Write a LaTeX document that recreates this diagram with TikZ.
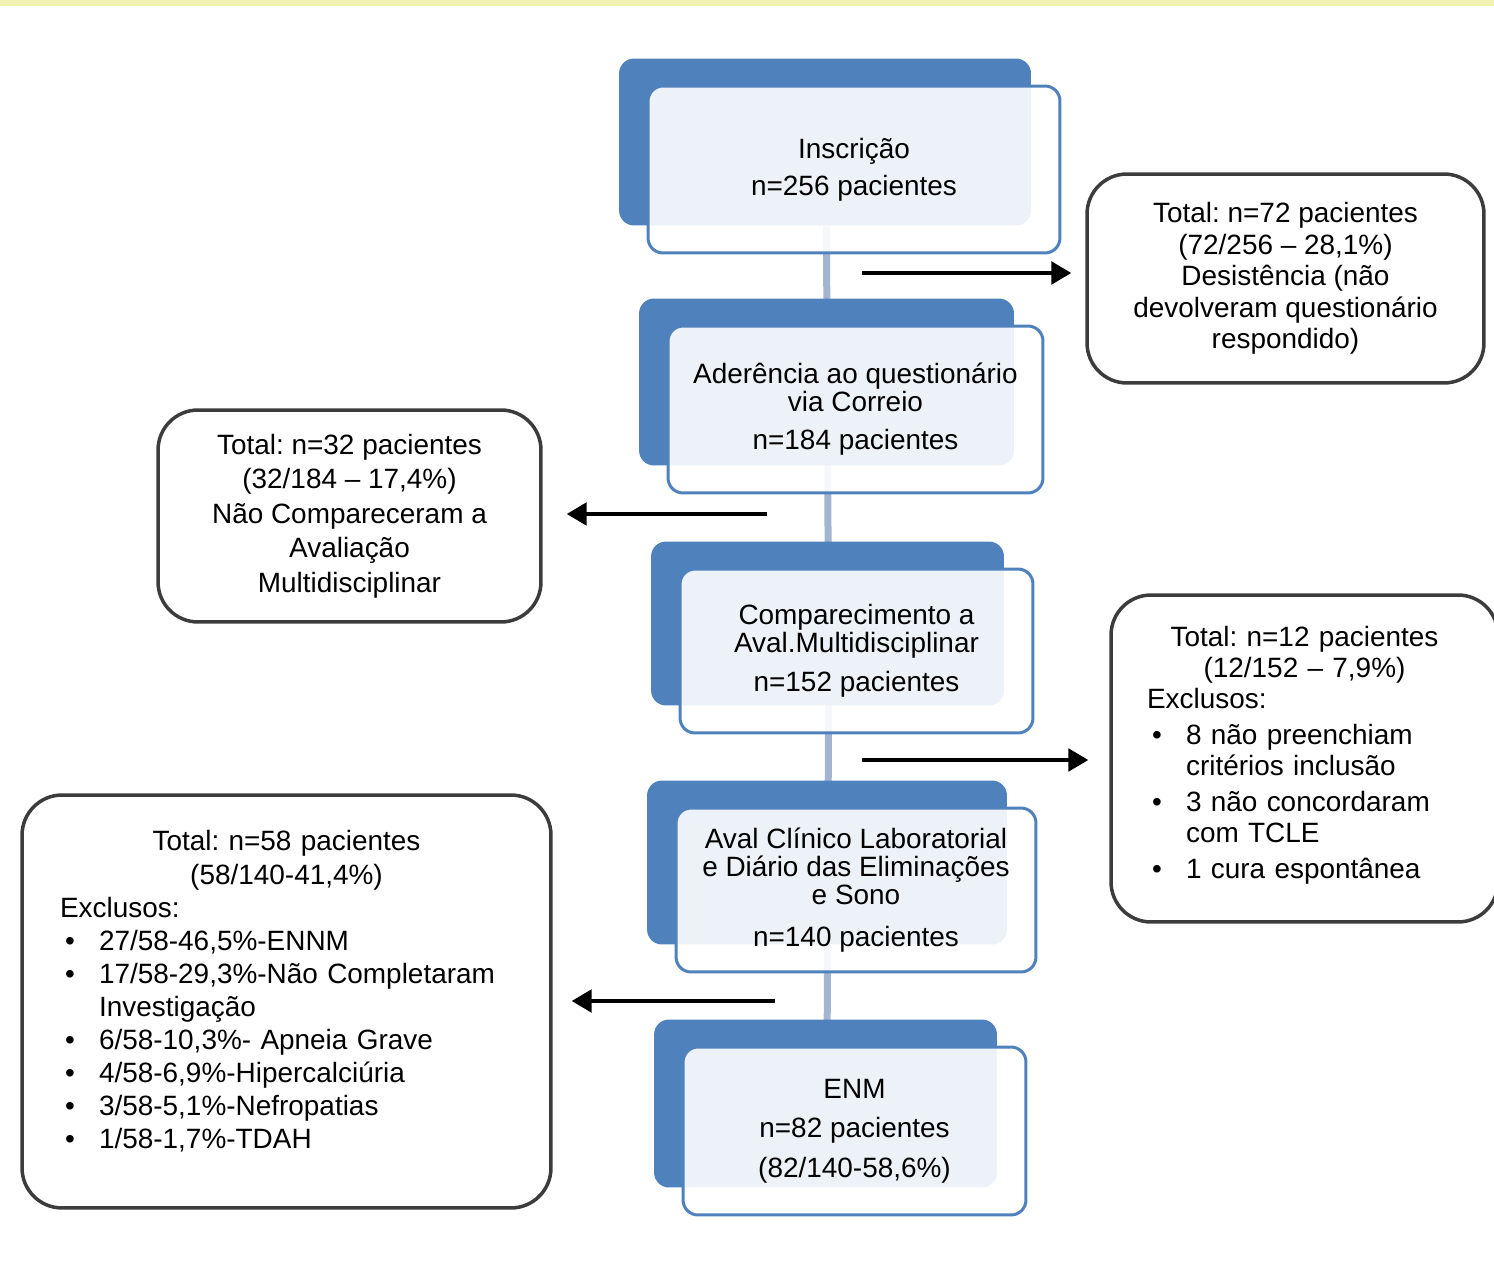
\documentclass[tikz,border=0pt]{standalone}
\usepackage{fontspec}
\setmainfont{Liberation Sans}
\usepackage{xcolor}
\usepackage{tikz}
\usetikzlibrary{arrows.meta, shadows, backgrounds}
\frenchspacing

\definecolor{azul}{HTML}{4F81BD}
\definecolor{linha}{HTML}{A3B5D1}
\definecolor{cinza}{HTML}{3C3C3C}
\definecolor{amarelo}{HTML}{F2F2B3}

\newcommand{\marca}{\hspace*{0.1cm}\makebox[0.68cm][l]{\textbullet}}
\newcommand{\centro}[1]{\makebox[\hsize][c]{#1}}

\tikzset{
  etapa/.style={draw=azul, line width=0.06cm, rounded corners=0.3cm,
    fill=white, fill opacity=0.9, text opacity=1, inner sep=0pt,
    align=center, font=\fontsize{15.9}{15.9}\selectfont,
    copy shadow={shadow xshift=-0.58cm, shadow yshift=0.55cm,
      fill=azul, draw=none, fill opacity=1}},
  caixa/.style={draw=cinza, line width=0.07cm, rounded corners=0.8cm,
    fill=white, font=\fontsize{15.9}{18.4}\selectfont},
  ligacao/.style={line width=0.14cm, color=linha},
  seta/.style={line width=0.08cm, -{Triangle[length=0.4cm,width=0.45cm]}},
}

\begin{document}
\begin{tikzpicture}[x=0.02cm, y=-0.02cm]
  \useasboundingbox (0,0) rectangle (1494,1263);
  % Faixa superior
  \fill[amarelo] (0,0) rectangle (1494,6);

  % Etapas principais
  \node[etapa, minimum width=8.24cm, minimum height=3.34cm] (insc) at (854,169.5)
    {Inscrição\\[0.18cm] n=256 pacientes};
  \node[etapa, minimum width=7.5cm, minimum height=3.34cm] (ader) at (855.5,409.5)
    {Aderência ao questionário\\ via Correio\\[0.2cm] n=184 pacientes};
  \node[etapa, minimum width=7.06cm, minimum height=3.28cm] (comp) at (856.5,651)
    {Comparecimento a\\ Aval.Multidisciplinar\\[0.22cm] n=152 pacientes};
  \node[etapa, minimum width=7.2cm, minimum height=3.28cm] (aval) at (856,890)
    {Aval Clínico Laboratorial\\ e Diário das Eliminações\\ e Sono\\[0.28cm] n=140 pacientes};
  \node[etapa, minimum width=6.86cm, minimum height=3.36cm] (enm) at (854.5,1131)
    {ENM\\[0.22cm] n=82 pacientes\\[0.24cm] (82/140-58,6\%)};

  % Ligacoes entre etapas
  \begin{scope}[on background layer]
    \foreach \a/\b in {insc/ader, ader/comp, comp/aval, aval/enm}
      \draw[ligacao] ([xshift=-0.56cm]\a.center) -- ([xshift=-0.56cm]\b.center);
  \end{scope}

  % Caixas laterais
  \node[caixa, align=center, minimum width=7.94cm, minimum height=4.18cm,
    font=\fontsize{15.9}{18.0}\selectfont] (desist) at (1285.5,278.5)
    {Total: n=72 pacientes\\ (72/256 – 28,1\%)\\ Desistência (não\\ devolveram questionário\\ respondido)};
  \node[caixa, align=center, minimum width=7.66cm, minimum height=4.24cm,
    font=\fontsize{15.9}{19.6}\selectfont] (naocomp) at (349.5,516)
    {Total: n=32 pacientes\\ (32/184 – 17,4\%)\\ Não Compareceram a\\ Avaliação\\ Multidisciplinar};
  \node[caixa, align=left, text width=6.3cm, inner xsep=0.72cm, minimum height=6.54cm,
    font=\fontsize{15.9}{17.6}\selectfont] (exclus1) at (1304.5,758.5)
    {\centro{Total: n=12 pacientes}\\
     \centro{(12/152 – 7,9\%)}\\
     Exclusos:\\[0.1cm]
     \marca 8 não preenchiam\\
     \hspace*{0.78cm}critérios inclusão\\[0.1cm]
     \marca 3 não concordaram\\
     \hspace*{0.78cm}com TCLE\\[0.1cm]
     \marca 1 cura espontânea\\[-0.38cm]\mbox{}};
  \node[caixa, align=left, text width=9.06cm, inner xsep=0.76cm, minimum height=8.26cm,
    font=\fontsize{15.9}{18.8}\selectfont] (exclus2) at (286.5,1001.5)
    {\centro{Total: n=58 pacientes}\\
     \centro{(58/140-41,4\%)}\\
     Exclusos:\\
     \marca 27/58-46,5\%-ENNM\\
     \marca 17/58-29,3\%-Não Completaram\\
     \hspace*{0.78cm}Investigação\\
     \marca 6/58-10,3\%- Apneia Grave\\
     \marca 4/58-6,9\%-Hipercalciúria\\
     \marca 3/58-5,1\%-Nefropatias\\
     \marca 1/58-1,7\%-TDAH\\[-0.18cm]\mbox{}};

  % Setas
  \coordinate (s1) at (862,273);
  \coordinate (s2) at (767,514);
  \coordinate (s3) at (862,760);
  \coordinate (s4) at (775,1001);
  \draw[seta, shorten >=0.28cm] (s1) -- (s1 -| desist.west);
  \draw[seta, shorten >=0.48cm] (s2) -- (s2 -| naocomp.east);
  \draw[seta, shorten >=0.42cm] (s3) -- (s3 -| exclus1.west);
  \draw[seta, shorten >=0.38cm] (s4) -- (s4 -| exclus2.east);
\end{tikzpicture}
\end{document}
